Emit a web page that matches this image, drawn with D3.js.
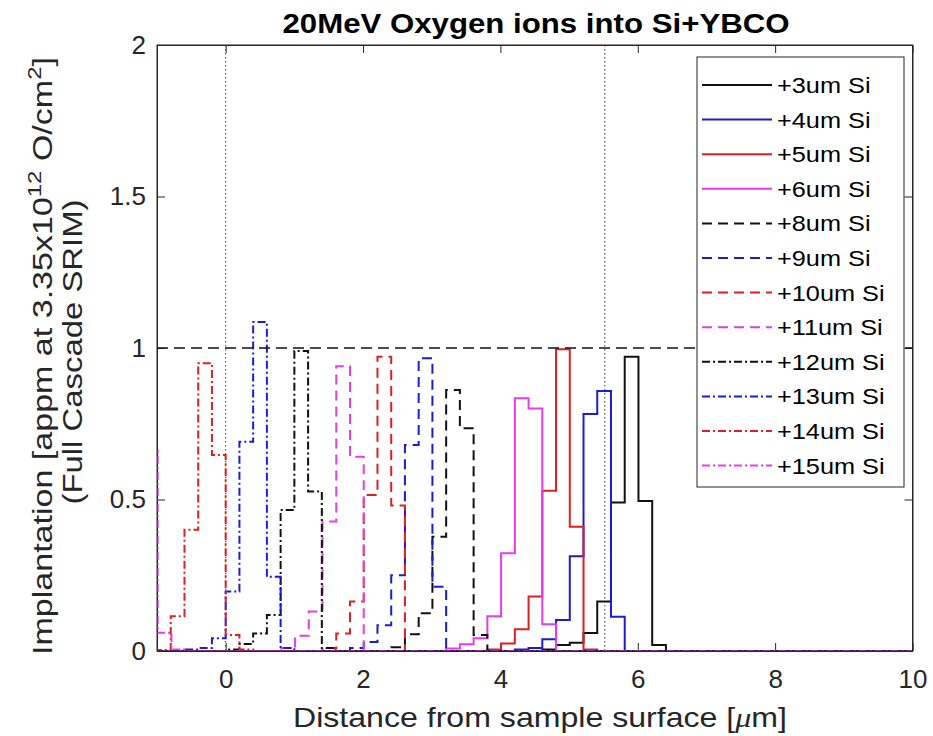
<!DOCTYPE html>
<html><head><meta charset="utf-8">
<script src="https://cdn.jsdelivr.net/npm/d3@7"></script>
<style>
body{margin:0;background:#fff;}
text{font-family:"Liberation Sans",Arial,sans-serif;fill:#262626;}
</style>
</head><body>
<svg id="chart" width="933" height="736"></svg>
<script>
// ---------------- data ----------------
const title = "20MeV Oxygen ions into Si+YBCO";
const seriesLabels = ["+3um Si","+4um Si","+5um Si","+6um Si","+8um Si","+9um Si",
  "+10um Si","+11um Si","+12um Si","+13um Si","+14um Si","+15um Si"];
const binWidth = 0.2;                       // histogram bin width [um]
const binStarts = [4.61, 4.21, 3.81, 3.21, 2.41, 1.81, 1.41, 0.81, 0.0, -0.6, -1.0, -1.19];
const si3  = [0.005, 0.02, 0.027, 0.059, 0.163, 0.49, 0.971, 0.495, 0.02];
const si4  = [0.005, 0.01, 0.039, 0.102, 0.313, 0.782, 0.858, 0.113];
const si5  = [0.005, 0.025, 0.072, 0.18, 0.529, 0.996, 0.41, 0.005];
const si6  = [0.008, 0.022, 0.042, 0.115, 0.323, 0.834, 0.80, 0.088];
const si8  = [0.012, 0.055, 0.125, 0.377, 0.861, 0.735, 0.053];
const si9  = [0.01, 0.03, 0.085, 0.25, 0.68, 0.966, 0.212];
const si10 = [0.01, 0.058, 0.163, 0.515, 0.971, 0.48];
const si11 = [0.01, 0.05, 0.13, 0.427, 0.94, 0.641];
const si12 = [0.005, 0.023, 0.058, 0.119, 0.465, 0.99, 0.526, 0.01];
const si13 = [0.005, 0.01, 0.042, 0.196, 0.691, 1.086, 0.245, 0.01];
const si14 = [0.003, 0.115, 0.40, 0.95, 0.647, 0.053, 0.005];
const si15 = [0.66, 0.06, 0.005];
const seriesValues = [si3, si4, si5, si6, si8, si9, si10, si11, si12, si13, si14, si15];
const xTicks = [0, 2, 4, 6, 8, 10];
const yTicks = [0, 0.5, 1, 1.5, 2];
const refLevel = 1;            // horizontal dashed reference
const refDepths = [0, 5.52];   // vertical dotted markers

// ---------------- styles ----------------
const colors = ["#111111","#1c1cd4","#dd2020","#e83ce8"];
const dashes = [null, "10,6", "8,3,2,3"];
const seriesColor = i => colors[i % 4];
const seriesDash = i => dashes[Math.floor(i / 4)];

const svg = d3.select("#chart");
const M = {left:157, right:912.5, top:45, bottom:651};
const x = d3.scaleLinear().domain([-1, 10]).range([M.left, M.right]);
const y = d3.scaleLinear().domain([0, 2]).range([M.bottom, M.top]);

svg.append("defs").append("clipPath").attr("id","clip")
  .append("rect").attr("x",M.left).attr("y",M.top)
  .attr("width",M.right-M.left).attr("height",M.bottom-M.top);

svg.append("rect").attr("x",M.left).attr("y",M.top)
  .attr("width",M.right-M.left).attr("height",M.bottom-M.top).attr("fill","#fff");

// axes
const axB = d3.axisBottom(x).tickValues(xTicks).tickSizeInner(-8).tickSizeOuter(0).tickPadding(19);
const axT = d3.axisTop(x).tickValues(xTicks).tickSizeInner(-8).tickSizeOuter(0).tickFormat("");
const axL = d3.axisLeft(y).tickValues(yTicks).tickSizeInner(-8).tickSizeOuter(0).tickPadding(11)
  .tickFormat(d3.format("~g"));
const axR = d3.axisRight(y).tickValues(yTicks).tickSizeInner(-8).tickSizeOuter(0).tickFormat("");
function styleAxis(g){
  g.select(".domain").attr("stroke","#262626").attr("stroke-width",1);
  g.selectAll(".tick line").attr("stroke","#262626").attr("stroke-width",1);
  g.selectAll(".tick text").attr("font-size",26).attr("fill","#262626")
   .attr("font-family",'"Liberation Sans",Arial,sans-serif');
}
svg.append("g").attr("transform",`translate(0,${M.bottom})`).call(axB).call(styleAxis);
svg.append("g").attr("transform",`translate(0,${M.top})`).call(axT).call(styleAxis);
svg.append("g").attr("transform",`translate(${M.left},0)`).call(axL).call(styleAxis);
svg.append("g").attr("transform",`translate(${M.right},0)`).call(axR).call(styleAxis);

const plot = svg.append("g").attr("clip-path","url(#clip)");

// reference lines
plot.selectAll("line.vref").data(refDepths).join("line").attr("class","vref")
  .attr("x1",d=>x(d)).attr("x2",d=>x(d)).attr("y1",M.top).attr("y2",M.bottom)
  .attr("stroke","#444").attr("stroke-width",1).attr("stroke-dasharray","1.5,2.5");

// series as stairs
const line = d3.line().x(d=>x(d[0])).y(d=>y(d[1])).curve(d3.curveStepAfter);
function stairPoints(start, vals){
  const pts = [[Math.min(-1.5,start), 0]];
  vals.forEach((v,k)=>pts.push([start + k*binWidth, v]));
  pts.push([start + vals.length*binWidth, 0]);
  pts.push([10.5, 0]);
  return pts;
}
seriesValues.forEach((vals,i)=>{
  plot.append("path").datum(stairPoints(binStarts[i], vals))
    .attr("d", line).attr("fill","none")
    .attr("stroke", seriesColor(i)).attr("stroke-width",2)
    .attr("stroke-dasharray", seriesDash(i))
    .attr("stroke-linejoin","miter");
});

plot.append("line").attr("x1",x(-1)).attr("x2",x(10)).attr("y1",y(refLevel)).attr("y2",y(refLevel))
  .attr("stroke","#111").attr("stroke-width",1.6).attr("stroke-dasharray","11,6");

// box outline on top
svg.append("rect").attr("x",M.left).attr("y",M.top)
  .attr("width",M.right-M.left).attr("height",M.bottom-M.top)
  .attr("fill","none").attr("stroke","#262626").attr("stroke-width",1);

// title & labels
function stretch(sel, target){
  sel.each(function(){
    const w = this.getComputedTextLength();
    d3.select(this).attr("textLength", target || w*1.15).attr("lengthAdjust","spacingAndGlyphs");
  });
}
svg.append("text").attr("x",536).attr("y",33).attr("text-anchor","middle")
  .attr("font-size",27).attr("font-weight","bold").style("fill","#000").text(title)
  .call(stretch, 507);

const xl = svg.append("text").attr("x",540).attr("y",727).attr("text-anchor","middle")
  .attr("font-size",28);
xl.append("tspan").text("Distance from sample surface [");
xl.append("tspan").attr("font-style","italic").attr("font-family",'"Liberation Serif","Times New Roman",serif').text("μ");
xl.append("tspan").text("m]");
xl.call(stretch, 494);

const yl1 = svg.append("text").attr("transform","translate(52,356) rotate(-90)")
  .attr("text-anchor","middle").attr("font-size",27);
yl1.append("tspan").text("Implantation [appm at 3.35x10");
yl1.append("tspan").attr("dy",-11).attr("font-size",19).text("12");
yl1.append("tspan").attr("dy",11).text(" O/cm");
yl1.append("tspan").attr("dy",-11).attr("font-size",19).text("2");
yl1.append("tspan").attr("dy",11).text("]");
yl1.call(stretch, 598);

svg.append("text").attr("transform","translate(82,352) rotate(-90)")
  .attr("text-anchor","middle").attr("font-size",27).text("(Full Cascade SRIM)")
  .call(stretch, 305);

// legend
const lg = svg.append("g");
lg.append("rect").attr("x",697).attr("y",57).attr("width",207).attr("height",430)
  .attr("fill","#fff").attr("stroke","#262626").attr("stroke-width",1);
const rowY = i => 85 + 34.6*i;
seriesLabels.forEach((lab,i)=>{
  lg.append("line").attr("x1",702).attr("x2",772).attr("y1",rowY(i)).attr("y2",rowY(i))
    .attr("stroke",seriesColor(i)).attr("stroke-width",2).attr("stroke-dasharray",seriesDash(i));
  lg.append("text").attr("x",777).attr("y",rowY(i)+8).attr("font-size",22).style("fill","#000")
    .text(lab).call(stretch);
});
</script>
</body></html>
